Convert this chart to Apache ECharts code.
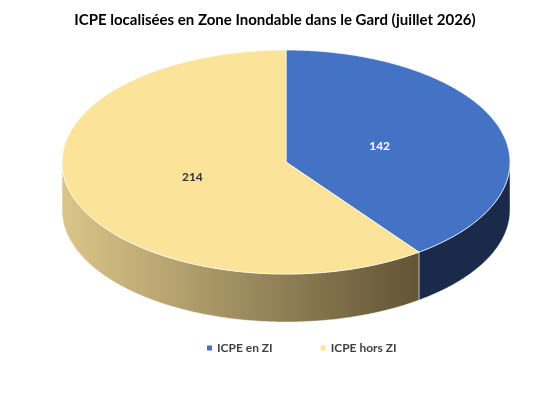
<!DOCTYPE html>
<html>
<head>
<meta charset="utf-8">
<script src="https://cdn.jsdelivr.net/npm/echarts@6/dist/echarts.min.js"></script>
<style>
  html, body { margin: 0; padding: 0; background: #fff; }
  #chart { width: 550px; height: 406px; }
</style>
</head>
<body>
<div id="chart"></div>
<script>
var titleText = "ICPE localisées en Zone Inondable dans le Gard (juillet 2026)"
var categories = ["ICPE en ZI", "ICPE hors ZI"]
var values = [142, 214]
var topColors = ["#4472c4", "#fbe499"]
var sideColors = [
  "#1b2a4b",
  {type: "linear", x: 62, y: 0, x2: 418, y2: 0, global: true,
   colorStops: [{offset: 0, color: "#dbc689"}, {offset: 1, color: "#625435"}]}
]
var labelColors = ["#ffffff", "#333333"]

// ellipse geometry of the tilted disc
var cx = 286, cy = 162, rx = 224, ry = 112, depth = 48
var total = values.reduce(function (s, v) { return s + v }, 0)

function pt(a, dy) {
  return [cx + rx * Math.sin(a), cy - ry * Math.cos(a) + (dy || 0)]
}
function arc(a0, a1, dy) {
  var pts = [], n = Math.max(2, Math.ceil(Math.abs(a1 - a0) / 0.01))
  for (var k = 0; k <= n; k++) pts.push(pt(a0 + (a1 - a0) * k / n, dy))
  return pts
}

var myChart = echarts.init(document.getElementById("chart"))

var series = categories.map(function (name, i) {
  return {
    type: "custom",
    name: name,
    coordinateSystem: "none",
    itemStyle: {color: topColors[i]},
    data: [values[i]],
    renderItem: function (params, api) {
      var before = 0
      for (var j = 0; j < i; j++) before += values[j]
      var a0 = before / total * 2 * Math.PI
      var a1 = (before + api.value(0)) / total * 2 * Math.PI
      var children = []
      // front wall: only the part facing the viewer
      var s = Math.max(a0, Math.PI / 2), e = Math.min(a1, Math.PI * 3 / 2)
      if (e > s) {
        var wall = arc(s, e, 0).concat(arc(e, s, depth))
        children.push({type: "polygon", z2: 1, shape: {points: wall},
          style: {fill: sideColors[i], stroke: "rgba(255,255,255,0.6)", lineWidth: 0.8}})
      }
      var top = [[cx, cy]].concat(arc(a0, a1, 0))
      children.push({type: "polygon", z2: 2, shape: {points: top},
        style: {fill: topColors[i], stroke: "rgba(255,255,255,0.9)", lineWidth: 0.8}})
      var mid = (a0 + a1) / 2
      var lp = [cx + 0.44 * rx * Math.sin(mid), cy - 0.44 * ry * Math.cos(mid)]
      children.push({type: "text", z2: 3, x: lp[0], y: lp[1],
        style: {text: String(api.value(0)), fill: labelColors[i],
          font: "bold 12px Lato, sans-serif", align: "center", verticalAlign: "middle"}})
      return {type: "group", children: children}
    }
  }
})

myChart.setOption({
  animation: false,
  title: {
    text: titleText,
    left: "center",
    top: 8,
    textStyle: {fontFamily: "Lato", fontWeight: "bold", fontSize: 15, color: "#000"}
  },
  legend: {
    data: categories,
    bottom: 47,
    left: 202,
    icon: "rect",
    itemWidth: 5,
    itemHeight: 5,
    itemGap: 48,
    textStyle: {fontFamily: "Lato", fontWeight: "bold", fontSize: 12, color: "#404040"}
  },
  series: series
})
</script>
</body>
</html>
